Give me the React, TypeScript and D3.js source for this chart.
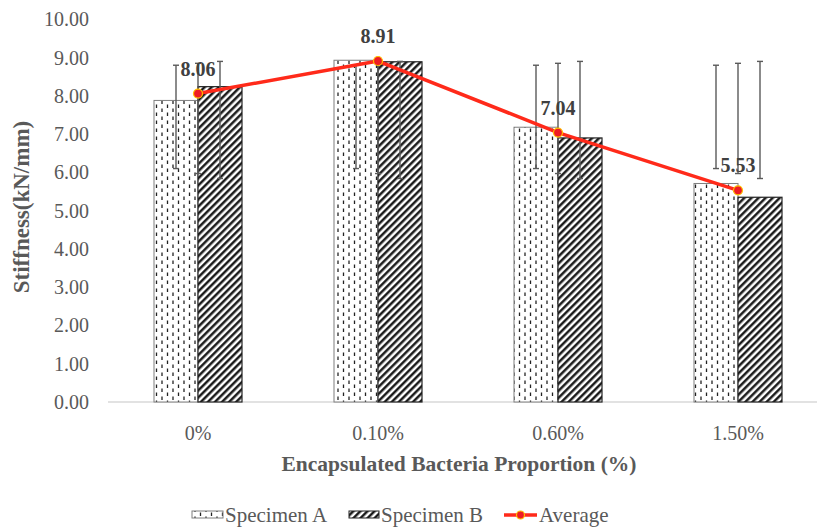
import React from "react";
import * as d3 from "d3";

const categories = ["0%", "0.10%", "0.60%", "1.50%"];
const specimenA = [7.88, 8.93, 7.18, 5.71];
const specimenB = [8.24, 8.89, 6.9, 5.35];
const average = [8.06, 8.91, 7.04, 5.53];
const avgLabels = ["8.06", "8.91", "7.04", "5.53"];
// custom error bar ranges (low, high) per series, per category
const errA = [[6.1, 8.8], [6.1, 8.8], [6.1, 8.8], [6.1, 8.8]];
const errAvg = [[5.97, 8.85], [5.97, 8.85], [5.97, 8.85], [5.97, 8.85]];
const errB = [[5.84, 8.9], [5.84, 8.9], [5.84, 8.9], [5.84, 8.9]];
const yTicks = [0, 1, 2, 3, 4, 5, 6, 7, 8, 9, 10];
const seriesNames = ["Specimen A", "Specimen B", "Average"];

const W = 817;
const H = 529;
const FONT = "'Liberation Serif', 'DejaVu Serif', serif";
const TXT = "#595959";

export default function App() {
  const x = d3.scaleBand<string>().domain(categories).range([108, 828]).paddingInner(0).paddingOuter(0);
  const y = d3.scaleLinear().domain([0, 10]).range([402, 19.3]);
  const bw = 44;
  const cx = (c: string) => (x(c) as number) + x.bandwidth() / 2;
  const line = d3
    .line<number>()
    .x((_, i) => cx(categories[i]))
    .y((d) => y(d));

  const errBar = (xc: number, lo: number, hi: number, key: string) => (
    <g key={key} stroke="#5a5a5a" strokeWidth={1.4}>
      <line x1={xc} x2={xc} y1={y(lo)} y2={y(hi)} />
      <line x1={xc - 3} x2={xc + 3} y1={y(lo)} y2={y(lo)} />
      <line x1={xc - 3} x2={xc + 3} y1={y(hi)} y2={y(hi)} />
    </g>
  );

  return (
    <svg width={W} height={H} style={{ position: "absolute", left: 0, top: 0, background: "#fff" }} fontFamily={FONT}>
      <defs>
        <pattern id="patA2" patternUnits="userSpaceOnUse" width="11" height="8">
          <rect width="11" height="8" fill="#fff" />
          <line x1="2.5" x2="2.5" y1="0.5" y2="4" stroke="#222" strokeWidth="1.3" />
          <line x1="8" x2="8" y1="4.5" y2="8" stroke="#222" strokeWidth="1.3" />
        </pattern>
        <pattern id="patB" patternUnits="userSpaceOnUse" width="5" height="5" patternTransform="rotate(45)">
          <rect width="5" height="5" fill="#fff" />
          <line x1="1.3" x2="1.3" y1="0" y2="5" stroke="#111" strokeWidth="2.4" />
        </pattern>
      </defs>

      {/* y tick labels */}
      {yTicks.map((t) => (
        <text key={t} x={89} y={y(t)} dy="0.35em" textAnchor="end" fontSize={20} fill={TXT}>
          {t.toFixed(2)}
        </text>
      ))}

      {/* x axis line */}
      <line x1={108} x2={817} y1={y(0)} y2={y(0)} stroke="#d9d9d9" strokeWidth={1.3} />

      {/* bars */}
      {categories.map((c, i) => (
        <g key={c}>
          <rect x={cx(c) - bw} y={y(specimenA[i])} width={bw} height={y(0) - y(specimenA[i])} fill="url(#patA2)" stroke="#7f7f7f" strokeWidth={1} />
          <rect x={cx(c)} y={y(specimenB[i])} width={bw} height={y(0) - y(specimenB[i])} fill="url(#patB)" stroke="#222" strokeWidth={1.2} />
        </g>
      ))}

      {/* error bars */}
      {categories.map((c, i) => (
        <g key={"e" + c}>
          {errBar(cx(c) - bw / 2, errA[i][0], errA[i][1], "a")}
          {errBar(cx(c), errAvg[i][0], errAvg[i][1], "m")}
          {errBar(cx(c) + bw / 2, errB[i][0], errB[i][1], "b")}
        </g>
      ))}

      {/* average line */}
      <path d={line(average) || ""} fill="none" stroke="#ff2a1a" strokeWidth={3.5} strokeLinejoin="round" />
      {average.map((v, i) => (
        <circle key={"p" + i} cx={cx(categories[i])} cy={y(v)} r={4.5} fill="#ee1c24" stroke="#ffc000" strokeWidth={1.2} />
      ))}
      {average.map((v, i) => (
        <text key={"l" + i} x={cx(categories[i])} y={y(v) - 25} dy="0.35em" textAnchor="middle" fontSize={20} fontWeight="bold" fill="#404040">
          {avgLabels[i]}
        </text>
      ))}

      {/* x tick labels */}
      {categories.map((c) => (
        <text key={"x" + c} x={cx(c)} y={433} dy="0.35em" textAnchor="middle" fontSize={20} fill={TXT}>
          {c}
        </text>
      ))}

      {/* axis titles */}
      <text x={459} y={463} dy="0.35em" textAnchor="middle" fontSize={21.5} fontWeight="bold" fill={TXT}>
        Encapsulated Bacteria Proportion (%)
      </text>
      <text transform={`translate(21,207) rotate(-90)`} textAnchor="middle" dy="0.35em" fontSize={23} fontWeight="bold" fill={TXT}>
        Stiffness(kN/mm)
      </text>

      {/* legend */}
      <g>
        <rect x={192} y={511} width={31} height={7} fill="url(#patA2)" stroke="#7f7f7f" strokeWidth={1} />
        <text x={225} y={515} dy="0.35em" fontSize={21} fill={TXT}>{seriesNames[0]}</text>
        <rect x={349} y={511} width={30} height={7} fill="url(#patB)" stroke="#222" strokeWidth={1} />
        <text x={381} y={515} dy="0.35em" fontSize={21} fill={TXT}>{seriesNames[1]}</text>
        <line x1={504} x2={537} y1={515} y2={515} stroke="#ff2a1a" strokeWidth={3.5} />
        <circle cx={520.5} cy={515} r={4} fill="#ee1c24" stroke="#ffc000" strokeWidth={1.2} />
        <text x={539} y={515} dy="0.35em" fontSize={21} fill={TXT}>{seriesNames[2]}</text>
      </g>
    </svg>
  );
}
